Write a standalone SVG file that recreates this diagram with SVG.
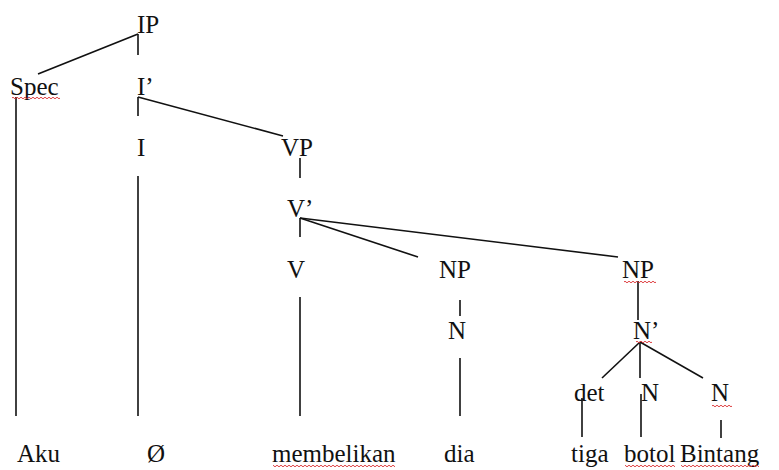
<svg xmlns="http://www.w3.org/2000/svg" width="779" height="470" viewBox="0 0 779 470">
  <style>
    .lbl { font-family: 'Liberation Serif', 'Times New Roman', Times, serif; font-size: 25px; fill: #111; }
    .edge { stroke: #111; stroke-width: 1.6; fill: none; stroke-linecap: butt; }
    .spell { fill: url(#squiggle); }
  </style>
  <defs>
    <!-- wavy spell-check underline tile -->
    <pattern id="squiggle" x="0" y="0" width="4" height="4" patternUnits="userSpaceOnUse">
      <path d="M0 2 Q1 0.4 2 2 T4 2" stroke="#d9292b" stroke-width="0.9" fill="none"/>
    </pattern>
  </defs>

  <rect width="779" height="470" fill="#fff"/>

  <!-- branches -->
  <g id="connectors">
    <path class="edge" d="M138 34 L38 74"/>
    <path class="edge" d="M138 34 V55"/>
    <path class="edge" d="M16 97 V416"/>
    <path class="edge" d="M138 97 V116"/>
    <path class="edge" d="M138 97 L283 136"/>
    <path class="edge" d="M138 176 V416"/>
    <path class="edge" d="M300 158 V178"/>
    <path class="edge" d="M300 218 V237"/>
    <path class="edge" d="M300 218 L418 257"/>
    <path class="edge" d="M300 218 L618 257"/>
    <path class="edge" d="M300 297 V416"/>
    <path class="edge" d="M460 300 V316"/>
    <path class="edge" d="M460 358 V416"/>
    <path class="edge" d="M638 281 V320"/>
    <path class="edge" d="M640 342 L602 378"/>
    <path class="edge" d="M640 342 V378"/>
    <path class="edge" d="M640 342 L703 378"/>
    <path class="edge" d="M582 398 V437"/>
    <path class="edge" d="M641 394 V437"/>
    <path class="edge" d="M721 420 V438"/>
  </g>

  <!-- category nodes -->
  <g id="n-IP"><text class="lbl" x="137" y="33">IP</text></g>
  <g id="n-Spec"><text class="lbl" x="10" y="95">Spec</text><rect class="spell" x="12" y="96" width="48" height="4"/></g>
  <g id="n-Ibar"><text class="lbl" x="137" y="95">I’</text></g>
  <g id="n-I"><text class="lbl" x="137" y="156">I</text></g>
  <g id="n-VP"><text class="lbl" x="281" y="156">VP</text></g>
  <g id="n-Vbar"><text class="lbl" x="287" y="217">V’</text></g>
  <g id="n-V"><text class="lbl" x="287" y="278">V</text></g>
  <g id="n-NP1"><text class="lbl" x="439" y="278">NP</text></g>
  <g id="n-NP2"><text class="lbl" x="622" y="278">NP</text><rect class="spell" x="624" y="280" width="32" height="4"/></g>
  <g id="n-N1"><text class="lbl" x="448" y="339">N</text></g>
  <g id="n-Nbar"><text class="lbl" x="633" y="339">N’</text><rect class="spell" x="636" y="340" width="16" height="4"/></g>
  <g id="n-det"><text class="lbl" x="574" y="401">det</text></g>
  <g id="n-N2"><text class="lbl" x="641" y="401">N</text></g>
  <g id="n-N3"><text class="lbl" x="711" y="401">N</text><rect class="spell" x="712" y="404" width="20" height="4"/></g>

  <!-- words -->
  <g id="w-Aku"><text class="lbl" x="17" y="462">Aku</text></g>
  <g id="w-null"><text class="lbl" x="147" y="462">Ø</text></g>
  <g id="w-membelikan"><text class="lbl" x="272" y="462">membelikan</text><rect class="spell" x="273" y="464" width="122" height="4"/></g>
  <g id="w-dia"><text class="lbl" x="444" y="462">dia</text></g>
  <g id="w-tiga"><text class="lbl" x="571" y="462">tiga</text></g>
  <g id="w-botol"><text class="lbl" x="624" y="462">botol</text><rect class="spell" x="625" y="464" width="50" height="4"/></g>
  <g id="w-Bintang"><text class="lbl" x="680" y="462">Bintang</text><rect class="spell" x="681" y="464" width="78" height="4"/></g>
</svg>
